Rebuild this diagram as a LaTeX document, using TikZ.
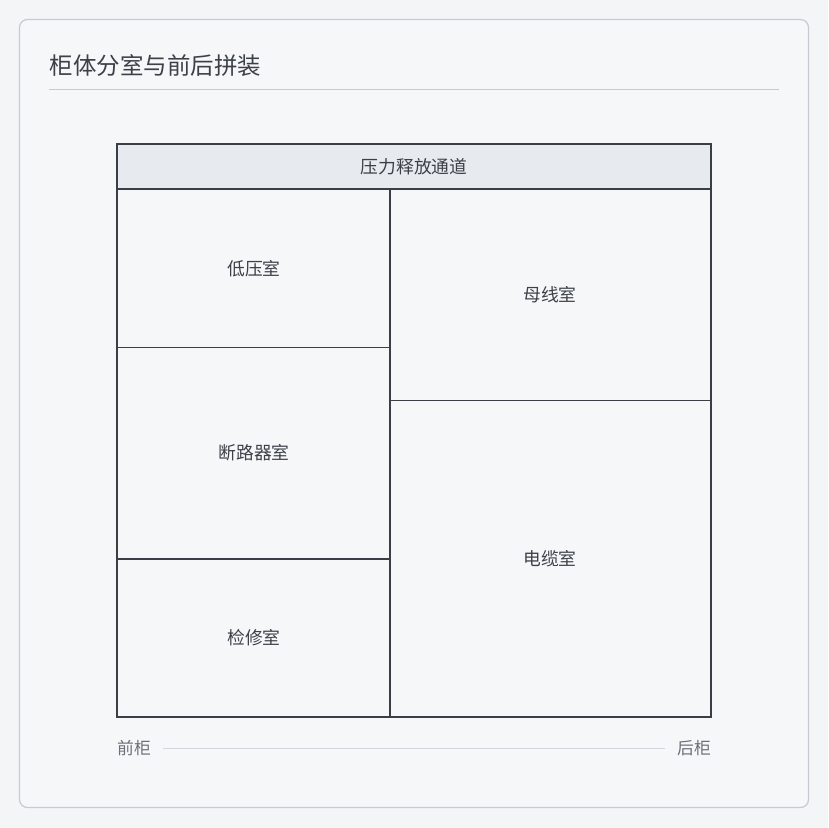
\documentclass[tikz,border=0pt]{standalone}
\usepackage{fontspec}
\setmainfont{Noto Sans CJK SC}
\definecolor{pagebg}{HTML}{F4F5F7}
\definecolor{cardbg}{HTML}{F6F7F9}
\definecolor{cardline}{HTML}{C6CAD4}
\definecolor{frameline}{HTML}{3A3F47}
\definecolor{headfill}{HTML}{E7EAEE}
\definecolor{inktext}{HTML}{3C4149}
\definecolor{softtext}{HTML}{6B7078}
\definecolor{rulegray}{HTML}{D3D6DD}
\begin{document}
\begin{tikzpicture}[x=1pt, y=-1pt,
		room/.style={font=\fontsize{17.8}{20}\selectfont, text=inktext},
		side/.style={font=\fontsize{16.8}{20}\selectfont, text=softtext, inner sep=0pt}]
		%page and card
		\fill[pagebg] (0,0) rectangle (828,828);
		\useasboundingbox (0,0) rectangle (828,828);
		\draw[cardline, line width=1.2pt, fill=cardbg, rounded corners=8pt] (19.5,19.5) rectangle (808.5,807.5);
		
		%title
		\node[anchor=west, inner sep=0pt, text=inktext, font=\fontsize{23.5}{26}\selectfont] (title) at (49.5, 66){柜体分室与前后拼装};
		\draw[cardline, line width=1pt] (49, 89.5) -- (779, 89.5);
		
		%header band
		\fill[headfill] (117,144) rectangle (711,189);
		
		%inner walls
		\draw[frameline, line width=1.6pt] (117,189) -- (711,189);
		\draw[frameline, line width=1.6pt] (390,189) -- (390,717);
		\foreach \y in {347.5, 559}{
			\draw[frameline, line width=1.5pt] (117,\y) -- (390,\y);
		}
		\draw[frameline, line width=1.5pt] (390,400.5) -- (711,400.5);
		
		%cabinet frame
		\draw[frameline, line width=2pt] (117,144) rectangle (711,717);
		
		%compartments
		\node[room] (vent) at (414, 167){压力释放通道};
		\node[room] (lowv) at (254, 269){低压室};
		\node[room] (breaker) at (254, 453){断路器室};
		\node[room] (service) at (254, 638){检修室};
		\node[room] (busbar) at (550, 295){母线室};
		\node[room] (cable) at (550, 559){电缆室};
		
		%front / rear
		\node[side, anchor=west] (front) at (117, 748){前柜};
		\node[side, anchor=east] (rear) at (711, 748){后柜};
		\draw[rulegray, line width=1pt] ([xshift=12pt]front.east) -- ([xshift=-12pt]rear.west);
\end{tikzpicture}
\end{document}
